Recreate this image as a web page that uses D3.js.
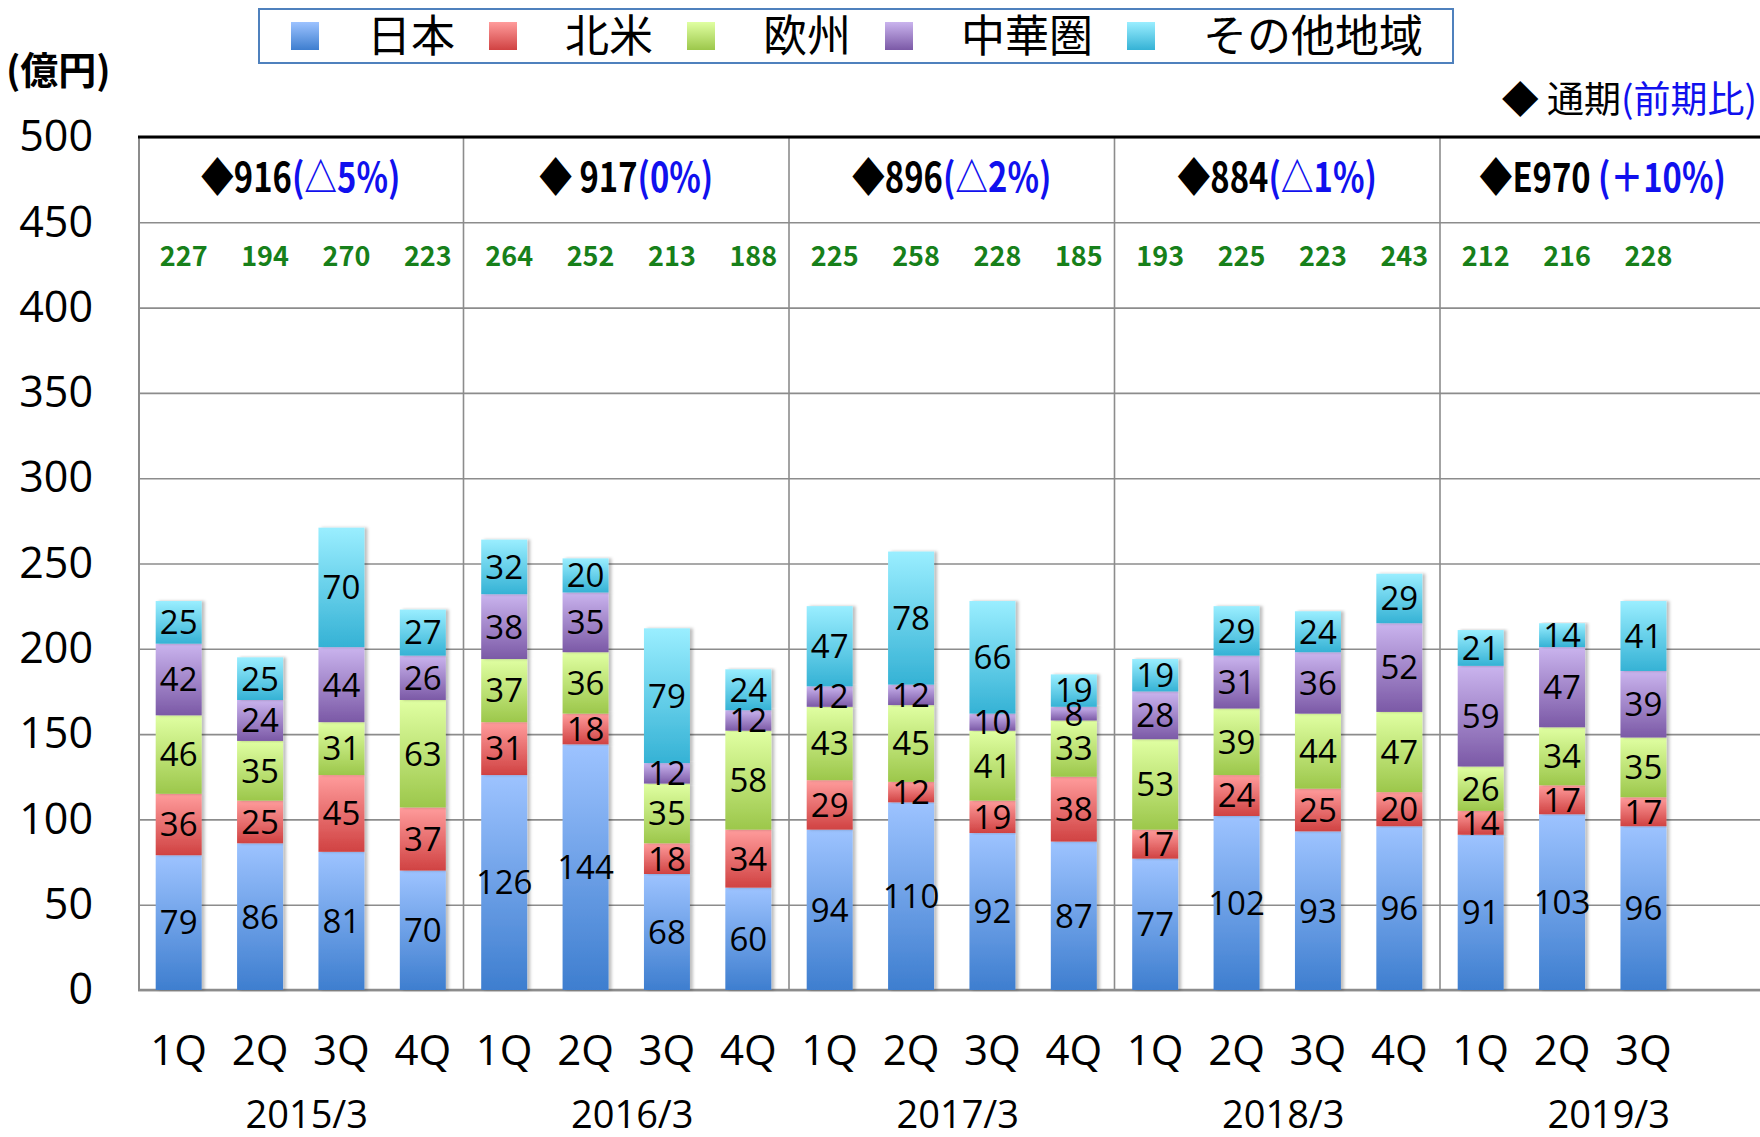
<!DOCTYPE html>
<meta http-equiv="Content-Type" content="text/html; charset=utf-8">
<body style="margin:0;background:#fff">
<script src="https://cdn.jsdelivr.net/npm/d3@7/dist/d3.min.js" charset="utf-8"></script>
<script>
var W = 1760, H = 1137;
var svg = d3.select("body").append("svg").attr("width", W).attr("height", H).style("display", "block");

// ---- data (億円) ----
var years = ["2015/3", "2016/3", "2017/3", "2018/3", "2019/3"];
var quarters = ["1Q", "2Q", "3Q", "4Q"];
var periods = ["2015/3|1Q","2015/3|2Q","2015/3|3Q","2015/3|4Q",
               "2016/3|1Q","2016/3|2Q","2016/3|3Q","2016/3|4Q",
               "2017/3|1Q","2017/3|2Q","2017/3|3Q","2017/3|4Q",
               "2018/3|1Q","2018/3|2Q","2018/3|3Q","2018/3|4Q",
               "2019/3|1Q","2019/3|2Q","2019/3|3Q"];
var regions = ["日本", "北米", "欧州", "中華圏", "その他地域"];
var japan        = [79, 86, 81, 70, 126, 144, 68, 60, 94, 110, 92, 87, 77, 102, 93, 96, 91, 103, 96];
var northAmerica = [36, 25, 45, 37, 31, 18, 18, 34, 29, 12, 19, 38, 17, 24, 25, 20, 14, 17, 17];
var europe       = [46, 35, 31, 63, 37, 36, 35, 58, 43, 45, 41, 33, 53, 39, 44, 47, 26, 34, 35];
var greaterChina = [42, 24, 44, 26, 38, 35, 12, 12, 12, 12, 10, 8, 28, 31, 36, 52, 59, 47, 39];
var otherRegions = [25, 25, 70, 27, 32, 20, 79, 24, 47, 78, 66, 19, 19, 29, 24, 29, 21, 14, 41];
var totals       = [227, 194, 270, 223, 264, 252, 213, 188, 225, 258, 228, 185, 193, 225, 223, 243, 212, 216, 228];
var annualTotal  = ["◆916", "◆ 917", "◆896", "◆884", "◆E970 "];
var annualChange = ["(△5%)", "(0%)", "(△2%)", "(△1%)", "(＋10%)"];
var yTicks = [0, 50, 100, 150, 200, 250, 300, 350, 400, 450, 500];

var series = [japan, northAmerica, europe, greaterChina, otherRegions];
var gradTop = ["#9dc3ff", "#ff9c9c", "#e0ffa2", "#cab4ee", "#9aeeff"];
var gradBot = ["#3e7ecf", "#d04242", "#9cc74b", "#7b59a6", "#35b2d5"];

var table = periods.map(function(p, i){
  var row = {period: p};
  regions.forEach(function(r, k){ row[r] = series[k][i]; });
  return row;
});
var stacked = d3.stack().keys(regions)(table);

// ---- scales ----
var slots = [];
years.forEach(function(yr){ quarters.forEach(function(q){ slots.push(yr + "|" + q); }); });
var x = d3.scaleBand().domain(slots).range([138, 1765.5]).paddingInner(0.435).paddingOuter(0.2175);
var y = d3.scaleLinear().domain([0, 500]).range([990, 137]);
var bw = x.bandwidth();
var gap = x.step() * x.paddingInner() / 2;

var JP = "'Noto Sans CJK JP', sans-serif";
var NUM = "'Open Sans', sans-serif";

// ---- defs ----
var defs = svg.append("defs");
regions.forEach(function(r, k){
  var g = defs.append("linearGradient").attr("id", "grad" + k).attr("x1", 0).attr("y1", 0).attr("x2", 0).attr("y2", 1);
  g.append("stop").attr("offset", "0%").attr("stop-color", gradTop[k]);
  g.append("stop").attr("offset", "100%").attr("stop-color", gradBot[k]);
});
defs.append("filter").attr("id", "shadow").attr("x", "-20%").attr("y", "-5%").attr("width", "150%").attr("height", "110%")
  .append("feDropShadow").attr("dx", 3).attr("dy", 0).attr("stdDeviation", 1.5)
  .attr("flood-color", "#000").attr("flood-opacity", 0.25);

// ---- grid ----
var grid = svg.append("g").attr("transform", "translate(138,0)")
  .call(d3.axisLeft(y).tickValues(yTicks).tickSize(-(W - 138)).tickFormat(""));
grid.select(".domain").remove();
grid.selectAll("line").attr("stroke", "#8c8c8c").attr("stroke-width", 1.6);

// group separators
var groupBounds = years.slice(1).map(function(yr){ return x(yr + "|1Q") - gap; });
svg.selectAll("line.sep").data(groupBounds).enter().append("line")
  .attr("x1", function(d){ return d; }).attr("x2", function(d){ return d; })
  .attr("y1", y(500)).attr("y2", y(0))
  .attr("stroke", "#8c8c8c").attr("stroke-width", 1.6);

// axes lines
svg.append("line").attr("x1", 139).attr("x2", 139).attr("y1", y(500)).attr("y2", y(0))
  .attr("stroke", "#8c8c8c").attr("stroke-width", 2);
svg.append("line").attr("x1", 138).attr("x2", W).attr("y1", y(0)).attr("y2", y(0))
  .attr("stroke", "#8c8c8c").attr("stroke-width", 2.5);
svg.append("line").attr("x1", 138).attr("x2", W).attr("y1", y(500)).attr("y2", y(500))
  .attr("stroke", "#000").attr("stroke-width", 3);

// y tick labels
var yAx = svg.append("g").attr("transform", "translate(138,0)")
  .call(d3.axisLeft(y).tickValues(yTicks).tickSize(0).tickPadding(45));
yAx.select(".domain").remove();
yAx.selectAll("text").attr("font-family", NUM).attr("font-size", 43).attr("fill", "#000");

// ---- bars ----
var layers = svg.selectAll("g.layer").data(stacked).enter().append("g").attr("class", "layer")
  .attr("fill", function(d, k){ return "url(#grad" + k + ")"; });
layers.selectAll("rect").data(function(d){ return d; }).enter().append("rect")
  .attr("x", function(d){ return x(d.data.period); })
  .attr("width", bw)
  .attr("y", function(d){ return y(d[1]); })
  .attr("height", function(d){ return y(d[0]) - y(d[1]); })
  .attr("filter", "url(#shadow)");

// segment labels
stacked.forEach(function(layer){
  svg.append("g").selectAll("text").data(layer).enter().append("text")
    .attr("x", function(d){ return x(d.data.period) + bw / 2; })
    .attr("y", function(d){ return y((d[0] + d[1]) / 2); })
    .attr("dy", "0.36em")
    .attr("text-anchor", "middle")
    .attr("font-family", NUM).attr("font-size", 33).attr("fill", "#000")
    .text(function(d){ return d[1] - d[0]; });
});

// quarter totals (green)
svg.append("g").selectAll("text").data(periods).enter().append("text")
  .attr("x", function(d){ return x(d) + bw / 2 + 5; })
  .attr("y", 256).attr("dy", "0.36em")
  .attr("text-anchor", "middle")
  .attr("font-family", JP).attr("font-weight", 700).attr("font-size", 27).attr("fill", "#17801a")
  .text(function(d, i){ return totals[i]; });

// annual headers
function groupCenter(yr){ return (x(yr + "|1Q") + x(yr + "|4Q") + bw) / 2; }
years.forEach(function(yr, i){
  var g = svg.append("g").attr("transform", "translate(" + groupCenter(yr) + ",178) scale(0.82,1)");
  var t = g.append("text").attr("text-anchor", "middle").attr("dy", "0.36em")
    .attr("font-family", JP).attr("font-weight", 700).attr("font-size", 40);
  t.append("tspan").attr("fill", "#000").text(annualTotal[i]);
  t.append("tspan").attr("fill", "#1010ee").text(annualChange[i]);
});

// x labels
var xAx = svg.append("g").attr("transform", "translate(0,990)")
  .call(d3.axisBottom(x).tickValues(periods).tickSize(0).tickPadding(45)
    .tickFormat(function(d){ return d.split("|")[1]; }));
xAx.select(".domain").remove();
xAx.selectAll("text").attr("font-family", NUM).attr("font-size", 42).attr("fill", "#000");

svg.append("g").selectAll("text").data(years).enter().append("text")
  .attr("x", function(d){ return groupCenter(d) + 6; })
  .attr("y", 1128)
  .attr("text-anchor", "middle")
  .attr("font-family", NUM).attr("font-size", 38).attr("fill", "#000")
  .text(function(d){ return d; });

// unit
svg.append("text").attr("x", 6).attr("y", 70).attr("dy", "0.36em")
  .attr("font-family", JP).attr("font-weight", 700).attr("font-size", 38).attr("fill", "#000")
  .text("(億円)");

// top-right note
var note = svg.append("text").attr("x", 1757).attr("y", 100).attr("dy", "0.36em").attr("text-anchor", "end")
  .attr("font-family", JP).attr("font-size", 37);
note.append("tspan").attr("fill", "#000").text("◆ 通期");
note.append("tspan").attr("fill", "#1010ee").text("(前期比)");

// ---- legend ----
var leg = svg.append("g");
leg.append("rect").attr("x", 259).attr("y", 9).attr("width", 1194).attr("height", 54)
  .attr("fill", "#fff").attr("stroke", "#4f81bd").attr("stroke-width", 2);
var lx = 291;
regions.forEach(function(r, k){
  leg.append("rect").attr("x", lx).attr("y", 22).attr("width", 28).attr("height", 28)
    .attr("fill", "url(#grad" + k + ")");
  var t = leg.append("text").attr("x", lx + 76).attr("y", 36).attr("dy", "0.36em")
    .attr("font-family", JP).attr("font-size", 44).attr("fill", "#000").text(r);
  lx = lx + 76 + t.node().getComputedTextLength() + 34;
});
</script>
</body>
</html>
